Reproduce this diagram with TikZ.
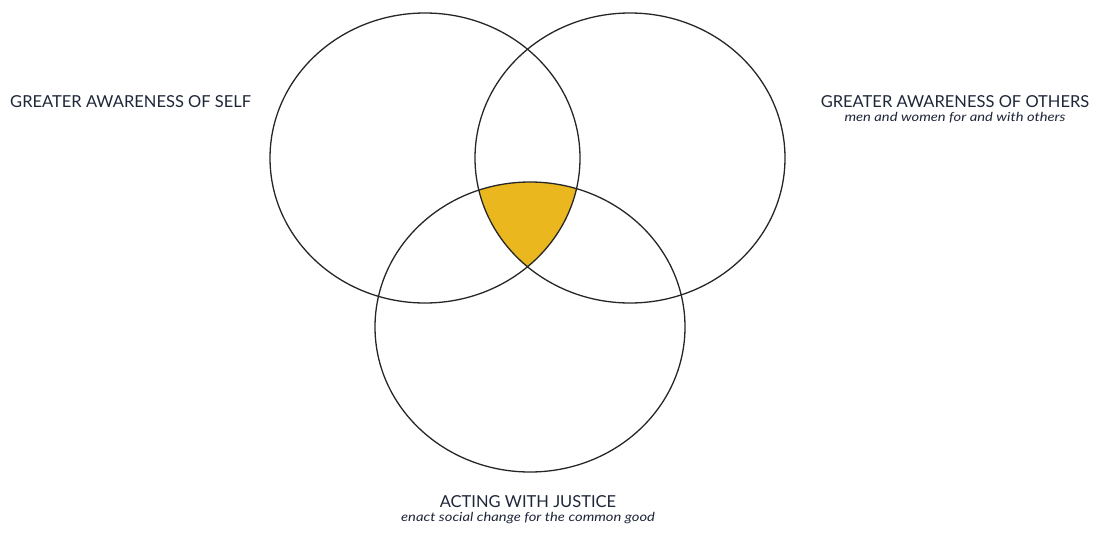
\documentclass[tikz,border=0pt]{standalone}
\usepackage{fontspec}
\setmainfont{Lato}
\newfontfamily\subfont[FakeStretch=1.18]{Lato}
\usetikzlibrary{positioning}
\definecolor{venngold}{HTML}{EAB81E}
\definecolor{labelnavy}{HTML}{1E2638}
\tikzset{
    venncircle/.style={
        draw=black!85,          % thin dark outline
        line width=1.3pt
    },
    titlelabel/.style={
        text=labelnavy,         % heading in capitals
        font=\fontsize{16.5}{18}\selectfont,
        inner sep=0pt
    },
    sublabel/.style={
        text=labelnavy,         % italic line under the heading
        font=\subfont\fontsize{12.5}{14}\selectfont\itshape,
        inner sep=0pt
    }
}

\begin{document}
\begin{tikzpicture}[x=1pt,y=-1pt]
    \useasboundingbox (0,0) rectangle (1097,533);
    \coordinate (self) at (425,158);
    \coordinate (others) at (630,158);
    \coordinate (justice) at (530,327);

    % centre where all three meet
    \begin{scope}
        \clip (self) ellipse [x radius=155, y radius=145];
        \clip (others) ellipse [x radius=155, y radius=145];
        \fill[venngold] (justice) ellipse [x radius=155, y radius=145];
    \end{scope}

    \draw[venncircle] (self) ellipse [x radius=155, y radius=145];
    \draw[venncircle] (others) ellipse [x radius=155, y radius=145];
    \draw[venncircle] (justice) ellipse [x radius=155, y radius=145];

    \node[titlelabel, anchor=west] (selftitle) at (10,102) {GREATER AWARENESS OF SELF};
    \node[titlelabel] (otherstitle) at (955,102) {GREATER AWARENESS OF OTHERS};
    \node[sublabel, below=4pt of otherstitle] (otherssub) {men and women for and with others};
    \node[titlelabel] (justicetitle) at (528,502) {ACTING WITH JUSTICE};
    \node[sublabel, below=4pt of justicetitle] (justicesub) {enact social change for the common good};
\end{tikzpicture}
\end{document}
